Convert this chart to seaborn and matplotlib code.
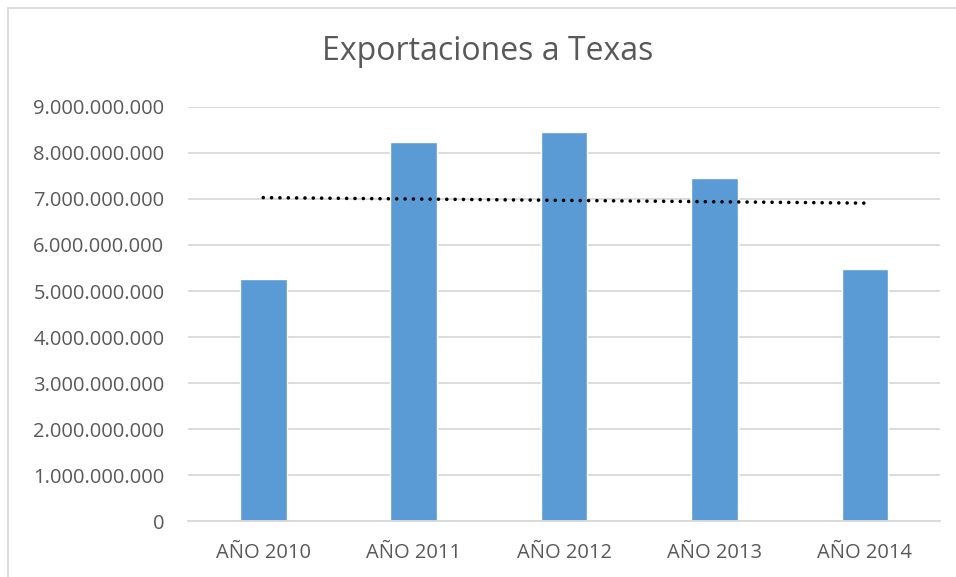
import numpy as np
import pandas as pd
import matplotlib
matplotlib.use("Agg")
import matplotlib.pyplot as plt
import seaborn as sns
from matplotlib.patches import Rectangle
from matplotlib.ticker import FuncFormatter

# datos
years = ["AÑO 2010", "AÑO 2011", "AÑO 2012", "AÑO 2013", "AÑO 2014"]
exports = [5.25e9, 8.23e9, 8.45e9, 7.46e9, 5.48e9]
# linea de tendencia (extremos)
trend_x = ["AÑO 2010", "AÑO 2014"]
trend_y = [7.03e9, 6.91e9]

df = pd.DataFrame({"year": years, "value": exports})

sns.set_theme(style="white")
plt.rcParams["font.family"] = ["Open Sans", "DejaVu Sans"]

fig = plt.figure(figsize=(9.56, 5.77), dpi=100)
ax = fig.add_axes([0.1967, 0.097, 0.7866, 0.7176])

sns.barplot(data=df, x="year", y="value", color="#5B9BD5", width=0.31,
            saturation=1, ax=ax)

# tendencia punteada
pos = [years.index(t) for t in trend_x]
ax.plot(pos, trend_y, color="black", lw=2.6, linestyle=(0, (0.01, 2.3)),
        dash_capstyle="round")

ax.set_xlim(-0.5, 4.5)
ax.set_ylim(0, 9e9)
ax.set_yticks(np.arange(0, 9.5e9, 1e9))
ax.yaxis.set_major_formatter(FuncFormatter(lambda v, p: f"{int(v):,}".replace(",", ".")))
ax.grid(axis="y", color="#D9D9D9", lw=1.3)
ax.set_axisbelow(True)
for s in ["top", "right", "left"]:
    ax.spines[s].set_visible(False)
ax.spines["bottom"].set_color("#D9D9D9")
ax.spines["bottom"].set_linewidth(1.3)
ax.tick_params(axis="y", length=0, pad=17, labelsize=14.5, labelcolor="#595959")
ax.tick_params(axis="x", length=0, pad=16, labelsize=14.5, labelcolor="#595959")
ax.set_xlabel("")
ax.set_ylabel("")

fig.text(0.51, 0.91, "Exportaciones a Texas", ha="center", va="center",
         fontsize=23, color="#595959")

# borde del area del grafico
fig.patches.append(Rectangle((8 / 956, -0.1), 1.2, 1.1 - 8 / 577,
                             transform=fig.transFigure, fill=False,
                             edgecolor="#D9D9D9", lw=1.3))

fig.savefig("out.png", dpi=100)
